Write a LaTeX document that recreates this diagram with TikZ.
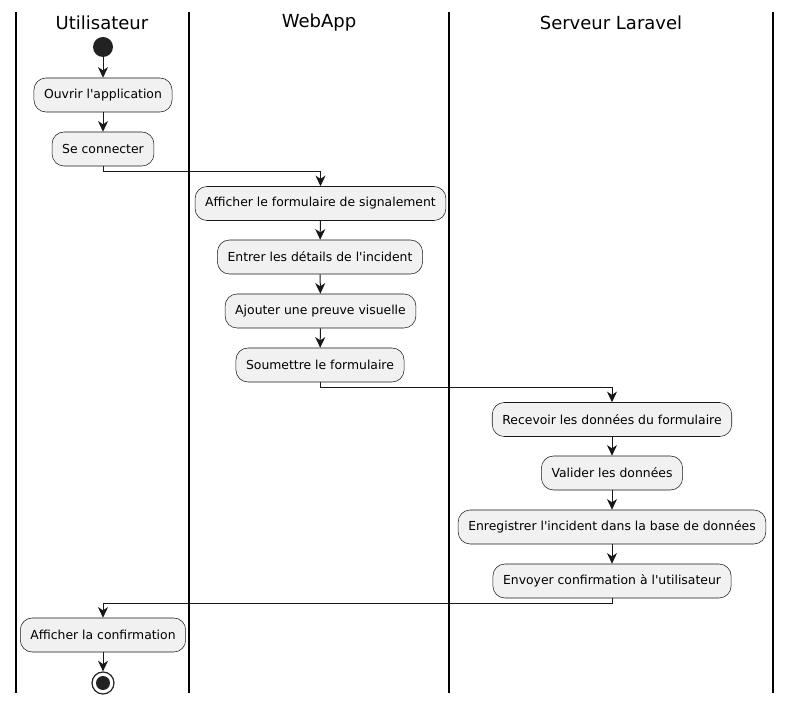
\documentclass[tikz,border=0pt]{standalone}
\usepackage{fontspec}
\setmainfont{DejaVu Sans}[Ligatures=TeXOff]
\usetikzlibrary{arrows.meta}
\definecolor{boxfill}{HTML}{F1F1F1}
\definecolor{ink}{HTML}{181818}
\definecolor{dot}{HTML}{222222}
\tikzset{
  act/.style={draw=ink, line width=0.4pt, fill=boxfill, rounded corners=9pt,
    minimum height=25.5pt, inner xsep=7.6pt, font=\fontsize{9.3}{11}\selectfont, text=black},
  lane/.style={line width=1.5pt, draw=black},
  title/.style={font=\fontsize{13.5}{16}\selectfont},
  flow/.style={draw=ink, line width=0.75pt, -{Stealth[length=8pt, width=7.5pt, inset=2.5pt]}},
}
\begin{document}
\begin{tikzpicture}[x=0.75pt, y=-0.75pt]
\useasboundingbox (0,0) rectangle (792,705);
% lanes
\draw[lane] (16,12) -- (16,693);
\draw[lane] (189,12) -- (189,693);
\draw[lane] (449,12) -- (449,693);
\draw[lane] (773,12) -- (773,693);
\node[title] (t1) at (102,23) {Utilisateur};
\node[title] (t2) at (319,23) {WebApp};
\node[title] (t3) at (611,23) {Serveur Laravel};
% nodes
\node[circle, fill=dot, minimum size=15pt, inner sep=0] (start) at (103,47) {};
\node[act] (n1) at (103,95) {Ouvrir l'application};
\node[act] (n2) at (103,149) {Se connecter};
\node[act] (n3) at (320.5,203.5) {Afficher le formulaire de signalement};
\node[act] (n4) at (320,257) {Entrer les détails de l'incident};
\node[act] (n5) at (320.5,311) {Ajouter une preuve visuelle};
\node[act] (n6) at (320,365) {Soumettre le formulaire};
\node[act] (n7) at (612,419.5) {Recevoir les données du formulaire};
\node[act] (n8) at (612,473) {Valider les données};
\node[act] (n9) at (612,527) {Enregistrer l'incident dans la base de données};
\node[act] (n10) at (612,581) {Envoyer confirmation à l'utilisateur};
\node[act] (n11) at (103,635) {Afficher la confirmation};
\node[circle, draw=dot, line width=0.9pt, fill=white, minimum size=16.5pt, inner sep=0] (stop) at (103,683) {};
\node[circle, fill=dot, minimum size=10.5pt, inner sep=0] (stopin) at (stop) {};
% connectors
\draw[flow] (start) -- (n1);
\draw[flow] (n1) -- (n2);
\draw[flow] (n2.south) |- (320.5,171.5) -- (n3.north);
\draw[flow] (n3) -- (n4);
\draw[flow] (n4) -- (n5);
\draw[flow] (n5) -- (n6);
\draw[flow] (n6.south) |- (612,387.5) -- (n7.north);
\draw[flow] (n7) -- (n8);
\draw[flow] (n8) -- (n9);
\draw[flow] (n9) -- (n10);
\draw[flow] (n10.south) |- (103,603.5) -- (n11.north);
\draw[flow] (n11) -- (stop);
\end{tikzpicture}
\end{document}
